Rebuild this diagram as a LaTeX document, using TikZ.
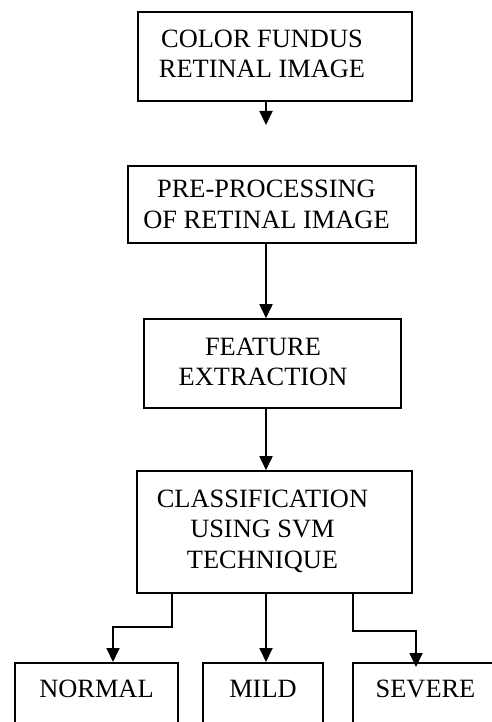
\documentclass[tikz,border=0pt]{standalone}
\usepackage{fontspec}
\setmainfont{Liberation Serif}
\usetikzlibrary{arrows.meta,positioning,fit}
\tikzset{
  bloco/.style={rectangle,draw=black,line width=1.6pt,inner sep=0pt},
  texto/.style={inner sep=0pt,align=center,font=\fontsize{26.4}{30.5}\selectfont},
  saida/.style={rectangle,draw=black,line width=1.6pt,inner sep=0pt,anchor=north,
    text height=35pt,text depth=45pt,font=\fontsize{26.4}{30.5}\selectfont},
  seta/.style={-{Triangle[length=14pt,width=13pt]},line width=1.8pt,black}
}
\begin{document}
\begin{tikzpicture}[x=1pt,y=-1pt]
\useasboundingbox (0,0) rectangle (492,722);
% caixas
\node[bloco,fit={(138,12) (412,101)}] (fundo) {};
\node[bloco,fit={(128,166) (416,243)}] (preproc) {};
\node[bloco,fit={(144,319) (401,408)}] (extracao) {};
\node[bloco,fit={(137,471) (412,593)}] (classif) {};
% textos
\node[texto] (tfundo) at (262,54) {COLOR FUNDUS\\RETINAL IMAGE};
\node[texto] (tpreproc) at (266.5,204.5) {PRE-PROCESSING\\OF RETINAL IMAGE};
\node[texto] (textracao) at (263,362) {FEATURE\\EXTRACTION};
\node[texto] (tclassif) at (262.5,531) {CLASSIFICATION\\USING SVM\\TECHNIQUE};
% classes
\node[saida,minimum width=163pt] (normal) at (96.5,662) {NORMAL};
\node[saida,minimum width=120pt] (mild) at (263,662) {MILD};
\node[saida,minimum width=145pt] (severe) at (425.5,662) {SEVERE};
% pontos auxiliares das setas
\coordinate (eixo) at (266,0);
\coordinate (ponta) at (266,125);
\coordinate (desvioE) at (172,627);
\coordinate (desvioD) at (353,631);
\draw[seta] (fundo.south -| eixo) -- (ponta);
\draw[seta] (preproc.south -| eixo) -- (extracao.north -| eixo);
\draw[seta] (extracao.south -| eixo) -- (classif.north -| eixo);
\draw[seta] (classif.south -| desvioE) -- (desvioE) -| ([xshift=16.5pt]normal.north);
\draw[seta] (classif.south -| eixo) -- (mild.north -| eixo);
\draw[seta] (classif.south -| desvioD) -- (desvioD) -| ([xshift=-9.5pt,yshift=-5pt]severe.north);
\end{tikzpicture}
\end{document}
